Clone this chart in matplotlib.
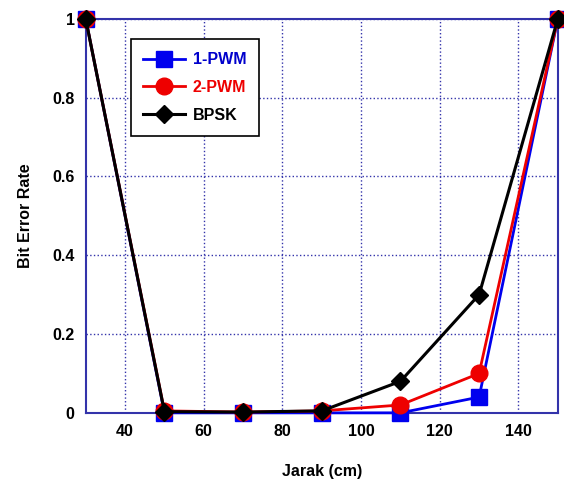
import matplotlib
matplotlib.use('Agg')
import matplotlib.pyplot as plt

plt.rcParams['font.family'] = ['Liberation Sans', 'DejaVu Sans']
plt.rcParams['font.weight'] = 'bold'

# data
jarak = [30, 50, 70, 90, 110, 130, 150]
pwm1 = [1, 0.0, 0.0, 0.0, 0.0, 0.04, 1]
pwm2 = [1, 0.005, 0.002, 0.005, 0.02, 0.1, 1]
bpsk = [1, 0.003, 0.002, 0.005, 0.08, 0.3, 1]

fig = plt.figure(figsize=(5.64, 4.84), dpi=100)
ax = fig.add_axes([0.152, 0.147, 0.837, 0.814])

ax.plot(jarak, pwm1, color='#0000ee', marker='s', markersize=11, lw=2, label='1-PWM', clip_on=False, zorder=3)
ax.plot(jarak, pwm2, color='#ee0000', marker='o', markersize=12, lw=2, label='2-PWM', clip_on=False, zorder=4)
ax.plot(jarak, bpsk, color='black', marker='D', markersize=9, lw=2.2, label='BPSK', clip_on=False, zorder=5)

ax.set_xlim(30, 150)
ax.set_ylim(0, 1)
ax.set_xticks([40, 60, 80, 100, 120, 140])
ax.set_yticks([0, 0.2, 0.4, 0.6, 0.8, 1])
ax.set_yticklabels(['0', '0.2', '0.4', '0.6', '0.8', '1'])
ax.tick_params(length=0, labelsize=11.5, pad=8)
ax.grid(True, color='#3333aa', linestyle=':', linewidth=1)
for s in ax.spines.values():
    s.set_color('#3333aa')
    s.set_linewidth(1.5)

ax.set_xlabel('Jarak (cm)', fontsize=11.5, fontweight='bold', labelpad=18)
ax.set_ylabel('Bit Error Rate', fontsize=11.5, fontweight='bold', labelpad=14)

leg = ax.legend(loc='upper left', bbox_to_anchor=(0.078, 0.968), fancybox=False,
                framealpha=1, edgecolor='black', fontsize=11.5, handlelength=2.6,
                handletextpad=0.5, borderpad=0.8, labelspacing=0.8)
leg.get_frame().set_linewidth(1.2)
for t, c in zip(leg.get_texts(), ['#0000cc', '#ee0000', 'black']):
    t.set_color(c)

plt.savefig('out.png', format='png')
